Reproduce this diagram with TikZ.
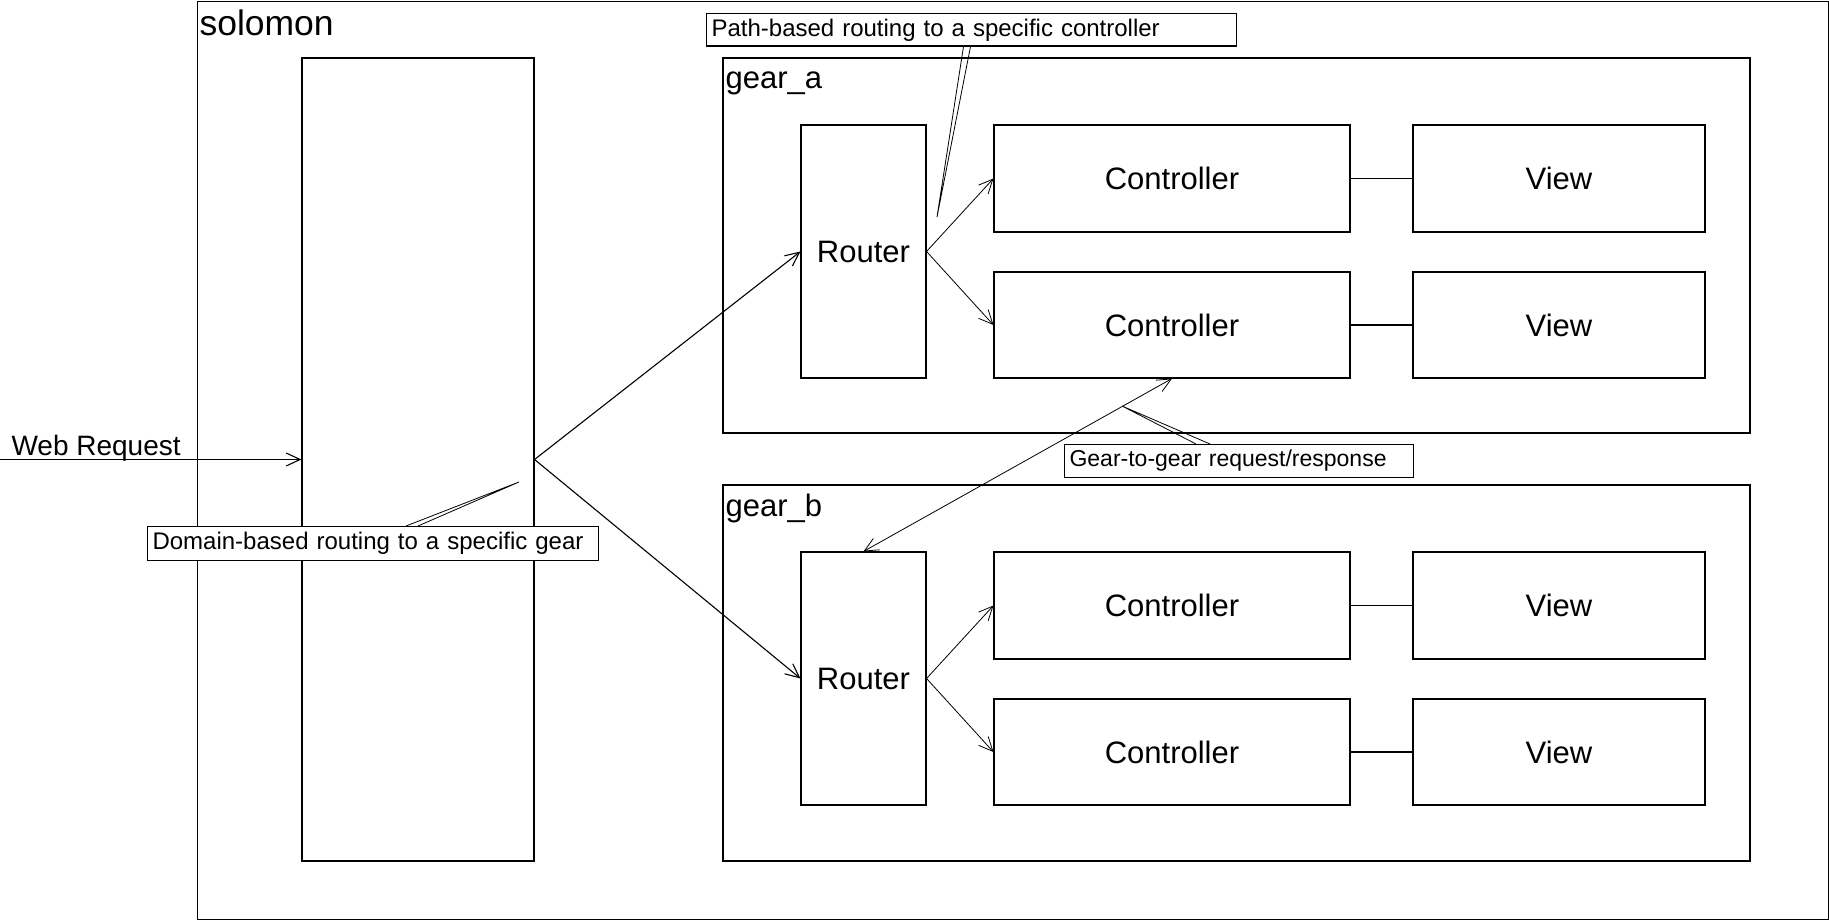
\documentclass[tikz,border=0pt]{standalone}
\usepackage{fontspec}
\setmainfont{Liberation Sans}
\usetikzlibrary{arrows.meta}

\begin{document}
\begin{tikzpicture}[x=1pt, y=-1pt, line width=1.1pt] % coordinates in pixels, y downwards
\tikzstyle{mybox} = [draw, inner sep=0pt, font=\fontsize{31}{36}\selectfont] % plain box with centred text
\tikzstyle{mytitle} = [anchor=base west, inner sep=0pt, font=\fontsize{31}{36}\selectfont] % box caption
\tikzstyle{mycallout} = [draw, fill=white, anchor=north west, inner xsep=5pt, inner ysep=0pt, align=left, font=\fontsize{24}{28}\selectfont] % note box
\tikzstyle{myarrow} = [-{Straight Barb[length=14pt, width=13pt]}] % open arrow head
\tikzstyle{mythin} = [line width=0.8pt]

\useasboundingbox (0,0) rectangle (1829,920);

% outer frame
\node[draw, inner sep=0pt, anchor=north west, minimum width=1631pt, minimum height=918pt] (solomon) at (196.5,0.6) {};
\node[mytitle, font=\fontsize{35.5}{40}\selectfont] (solomontitle) at (199,36) {solomon};

% domain dispatcher
\node[mybox, minimum width=232pt, minimum height=803pt] (front) at (418,459.5) {};

% gear_a
\node[mybox, minimum width=1027pt, minimum height=375pt] (gearA) at (1236.5,245.5) {};
\node[mytitle] (gearAtitle) at (725,89) {gear\_a};
\node[mybox, minimum width=125pt, minimum height=253pt] (routerA) at (863.5,251.5) {Router};
\node[mybox, minimum width=356pt, minimum height=107pt] (ctrlA1) at (1172,178.5) {Controller};
\node[mybox, minimum width=292pt, minimum height=107pt] (viewA1) at (1559,178.5) {View};
\node[mybox, minimum width=356pt, minimum height=106pt] (ctrlA2) at (1172,325) {Controller};
\node[mybox, minimum width=292pt, minimum height=106pt] (viewA2) at (1559,325) {View};

% gear_b
\node[mybox, minimum width=1027pt, minimum height=376pt] (gearB) at (1236.5,673) {};
\node[mytitle] (gearBtitle) at (725,516) {gear\_b};
\node[mybox, minimum width=125pt, minimum height=253pt] (routerB) at (863.5,678.5) {Router};
\node[mybox, minimum width=356pt, minimum height=107pt] (ctrlB1) at (1172,605.5) {Controller};
\node[mybox, minimum width=292pt, minimum height=107pt] (viewB1) at (1559,605.5) {View};
\node[mybox, minimum width=356pt, minimum height=106pt] (ctrlB2) at (1172,752) {Controller};
\node[mybox, minimum width=292pt, minimum height=106pt] (viewB2) at (1559,752) {View};

% incoming request
\coordinate (webin) at (0,459.5);
\node[anchor=base west, inner sep=0pt, font=\fontsize{28}{32}\selectfont] (weblabel) at (11,455) {Web Request};
\draw[myarrow] (webin) -- (front.west);

% routing
\draw[myarrow] (front.east) -- (routerA.west);
\draw[myarrow] (front.east) -- (routerB.west);
\draw[myarrow, mythin] (routerA.east) -- (ctrlA1.west);
\draw[myarrow, mythin] (routerA.east) -- (ctrlA2.west);
\draw[myarrow, mythin] (routerB.east) -- (ctrlB1.west);
\draw[myarrow, mythin] (routerB.east) -- (ctrlB2.west);
\draw (ctrlA1.east) -- (viewA1.west);
\draw (ctrlA2.east) -- (viewA2.west);
\draw (ctrlB1.east) -- (viewB1.west);
\draw (ctrlB2.east) -- (viewB2.west);
\draw[{Straight Barb[length=14pt, width=13pt]}-{Straight Barb[length=14pt, width=13pt]}, mythin] (routerB.north) -- (ctrlA2.south);

% notes
\node[mycallout, text width=520pt, minimum height=32.5pt] (pathnote) at (706,13) {Path-based routing to a specific controller};
\coordinate (pathtip) at (937,217);
\draw[mythin] ([xshift=257.5pt]pathnote.south west) -- (pathtip) -- ([xshift=264.5pt]pathnote.south west);

\node[mycallout, text width=441pt, minimum height=34pt] (domainnote) at (147,526) {Domain-based routing to a specific gear};
\coordinate (domaintip) at (519,482);
\draw[mythin] ([xshift=259pt]domainnote.north west) -- (domaintip) -- ([xshift=271pt]domainnote.north west);

\node[mycallout, text width=339pt, minimum height=33pt, font=\fontsize{23}{27}\selectfont] (gearnote) at (1064,444) {Gear-to-gear request/response};
\coordinate (geartip) at (1122,406);
\draw[mythin] ([xshift=132pt]gearnote.north west) -- (geartip) -- ([xshift=146pt]gearnote.north west);
\end{tikzpicture}
\end{document}
